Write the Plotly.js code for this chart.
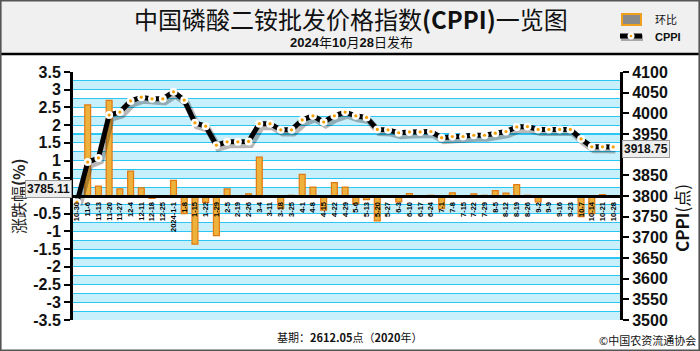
<!DOCTYPE html>
<html><head><meta charset="utf-8">
<script src="https://cdn.plot.ly/plotly-3.0.1.min.js"></script>
<style>html,body{margin:0;padding:0;background:#fff}#chart{width:700px;height:351px}</style>
</head><body><div id="chart"></div>
<script>
const categories = ['10-30','11-6','11-13','11-20','11-27','12-4','12-11','12-18','12-25','2024-1-1','1-8','1-15','1-22','1-29','2-5','2-19','2-26','3-4','3-11','3-18','3-25','4-1','4-8','4-15','4-22','4-29','5-6','5-13','5-20','5-27','6-3','6-10','6-17','6-24','7-1','7-8','7-15','7-22','7-29','8-5','8-12','8-19','8-26','9-2','9-9','9-16','9-23','10-7','10-14','10-21','10-28'];
const changePct = [0,2.57,0.28,2.7,0.2,0.7,0.23,-0.07,0,0.44,-0.5,-1.36,-0.18,-1.12,0.2,0,0.06,1.1,0,-0.36,0.02,0.61,0.25,-0.4,0.38,0.25,-0.22,-0.1,-0.7,-0.03,-0.17,0.07,0,0.02,-0.36,0.09,0,0.06,0.02,0.15,0.08,0.32,0.02,-0.17,0.01,0,0,-0.58,-0.5,0.04,0];
const cppi = [3785.11,3882,3892,3996,4003,4030,4039,4035,4035,4052,4032,3977,3969,3923,3931,3931,3932,3975,3975,3960,3960,3984,3994,3979,3994,4003,3994,3990,3961,3960,3953,3955,3955,3956,3941,3944,3944,3947,3947,3952,3956,3967,3968,3961,3961,3961,3961,3938,3919,3919,3918.75];
const leftTickVals = [-3.5,-3,-2.5,-2,-1.5,-1,-0.5,0,0.5,1,1.5,2,2.5,3,3.5];
const leftTickText = ['-3.5','-3','-2.5','-2','-1.5','-1','-0.5','','0.5','1','1.5','2','2.5','3','3.5'];
const rightTickVals = [3500,3550,3600,3650,3700,3750,3800,3850,3900,3950,4000,4050,4100];
const rightTickText = ['3500','3550','3600','3650','3700','3750','3800','3850','','3950','4000','4050','4100'];
const titleText = '中国磷酸二铵批发价格指数<b>(CPPI)</b>一览图';
const subtitleText = '<b>2024</b>年<b>10</b>月<b>28</b>日发布';
const leftTitle = '涨跌幅<b>(%)</b>';
const rightTitle = '<b>CPPI</b>(点)';
const legendBar = '环比';
const legendLine = 'CPPI';
const baseText = '基期：<b>2612.05</b>点（<b>2020</b>年）';
const sourceText = '©中国农资流通协会';
const firstLabel = '3785.11';
const lastLabel = '3918.75';

const W = 700, H = 351, L = 73, R = 620, T = 72, B = 320;
const px = x => (x - L) / (R - L);
const py = y => (B - y) / (B - T);
const FONT = 'Liberation Sans, Arial, Noto Sans CJK SC, sans-serif';
const CJK = 'Noto Sans CJK SC, Liberation Sans, sans-serif';
const xr = [-0.37, 50.63];
const lastIdx = categories.length - 1;

const shapes = [];
shapes.push({type:'rect', xref:'paper', yref:'paper', x0:px(0), x1:px(W), y0:py(0), y1:py(53), fillcolor:'#f0f0f0', line:{width:0}, layer:'below'});
shapes.push({type:'line', xref:'paper', yref:'paper', x0:px(1), x1:px(699), y0:py(54), y1:py(54), line:{color:'#000', width:2.5}});
shapes.push({type:'rect', xref:'paper', yref:'paper', x0:px(0.8), x1:px(699.2), y0:py(0.8), y1:py(350.2), line:{color:'#555', width:1.6}});
for (let v = -3.5; v < 3.5; v += 0.5) {
  shapes.push({type:'rect', xref:'paper', yref:'y', x0:0, x1:1, y0:v, y1:v+0.25, fillcolor:'#c8f0fc', line:{width:0}, layer:'below'});
}
shapes.push({type:'rect', xref:'paper', yref:'paper', x0:px(622), x1:px(641), y0:py(14), y1:py(25), fillcolor:'#8a8a8a', line:{color:'#f0a01c', width:2}});
shapes.push({type:'line', xref:'paper', yref:'paper', x0:px(621), x1:px(643), y0:py(38), y1:py(38), line:{color:'rgba(0,0,0,0.3)', width:6}});
shapes.push({type:'line', xref:'paper', yref:'paper', x0:px(620), x1:px(642), y0:py(36), y1:py(36), line:{color:'#000', width:5}});
shapes.push({type:'circle', xref:'paper', yref:'paper', x0:px(627.5), x1:px(634.5), y0:py(32.5), y1:py(39.5), fillcolor:'#fff', line:{width:0}});
shapes.push({type:'circle', xref:'paper', yref:'paper', x0:px(629.7), x1:px(632.3), y0:py(34.7), y1:py(37.3), fillcolor:'#f5a000', line:{width:0}});

function ann(o) { return Object.assign({xref:'paper', yref:'paper', showarrow:false, xanchor:'center', yanchor:'middle', borderpad:0}, o); }
const annotations = [
  ann({text:titleText, x:px(351), y:py(18.5), font:{family:CJK, size:24, color:'#111'}}),
  ann({text:subtitleText, x:px(351), y:py(42.5), font:{family:FONT, size:13, color:'#111'}}),
  ann({text:legendBar, x:px(654), y:py(19), xanchor:'left', font:{family:CJK, size:11, color:'#111'}}),
  ann({text:'<b>'+legendLine+'</b>', x:px(654), y:py(37), xanchor:'left', font:{family:FONT, size:11, color:'#111'}}),
  ann({text:leftTitle, x:px(18), y:py(196), textangle:-90, font:{family:CJK, size:16, color:'#222'}}),
  ann({text:rightTitle, x:px(682), y:py(218), textangle:-90, font:{family:CJK, size:17, color:'#111'}}),
  ann({text:baseText, x:px(350), y:py(337), font:{family:CJK, size:11, color:'#111'}}),
  ann({text:sourceText, x:px(697), y:py(340), xanchor:'right', font:{family:CJK, size:11, color:'#111'}}),
  ann({text:'<b>'+firstLabel+'</b>', yref:'y2', x:px(72), y:cppi[0], yshift:13, xanchor:'right', bgcolor:'#eeeeee', bordercolor:'#999', borderwidth:1, borderpad:1, font:{family:FONT, size:12, color:'#111'}}),
  ann({text:'<b>'+lastLabel+'</b>', yref:'y2', x:px(622), y:cppi[lastIdx], yshift:-2, xanchor:'left', bgcolor:'#eeeeee', bordercolor:'#999', borderwidth:1, borderpad:1, font:{family:FONT, size:12, color:'#111'}})
];

const traces = [
  {type:'bar', x:categories, y:changePct, xaxis:'x', yaxis:'y', width:0.55,
   marker:{color:'#ecb23c', line:{color:'#e27a12', width:1.2}}, hoverinfo:'skip', showlegend:false},
  {type:'scatter', mode:'lines', x:categories, y:cppi, xaxis:'x2', yaxis:'y3',
   line:{color:'rgba(0,0,0,0.28)', width:7}, hoverinfo:'skip', showlegend:false},
  {type:'scatter', mode:'lines+markers', x:categories, y:cppi, xaxis:'x3', yaxis:'y4',
   line:{color:'#000', width:5}, marker:{size:8, color:'#fff'}, showlegend:false},
  {type:'scatter', mode:'markers', x:categories, y:cppi, xaxis:'x3', yaxis:'y4',
   marker:{size:3.2, color:'#f5a000'}, hoverinfo:'skip', showlegend:false}
];

const tickFont = {family:FONT, size:16, color:'#111', weight:'bold'};
const layout = {
  width:W, height:H, margin:{l:L, r:W-R, t:T, b:H-B},
  paper_bgcolor:'#fff', plot_bgcolor:'#fff', showlegend:false, bargap:0,
  xaxis:{type:'category', range:xr, anchor:'free', position:0.5, tickmode:'linear', tick0:0, dtick:1,
    tickangle:-90, ticks:'', showgrid:false, zeroline:false, showline:true, linecolor:'#000', linewidth:3,
    tickfont:{family:FONT, size:7.5, color:'#000', weight:'bold'}, ticklabelstandoff:1},
  xaxis2:{type:'category', range:[xr[0]-0.2, xr[1]-0.2], overlaying:'x', visible:false},
  xaxis3:{type:'category', range:xr, overlaying:'x', visible:false},
  xaxis4:{type:'linear', range:xr, overlaying:'x', anchor:'free', position:0.5, tick0:1.5, dtick:2,
    ticks:'outside', ticklen:5, tickwidth:2, tickcolor:'#000', showticklabels:false, showgrid:false, zeroline:false, showline:false},
  yaxis:{range:[-3.5,3.5], tickmode:'array', tickvals:leftTickVals, ticktext:leftTickText, ticks:'outside', ticklen:6, tickwidth:2, tickcolor:'#000',
    showline:true, linecolor:'#000', linewidth:3, showgrid:true, gridcolor:'#2cc6f4', gridwidth:1.2,
    minor:{dtick:0.25, tick0:0, showgrid:true, gridcolor:'#2cc6f4', gridwidth:1.2}, zeroline:false, tickfont:tickFont, anchor:'x'},
  yaxis2:{range:[3500,4100], tickmode:'array', tickvals:rightTickVals, ticktext:rightTickText, overlaying:'y', side:'right', anchor:'x', ticks:'outside', ticklen:6, tickwidth:2, tickcolor:'#000',
    showline:true, linecolor:'#000', linewidth:3, showgrid:false, zeroline:false, tickfont:tickFont},
  yaxis3:{range:[3500+7.3, 4100+7.3], overlaying:'y', visible:false},
  yaxis4:{range:[3500,4100], overlaying:'y', visible:false},
  shapes:shapes, annotations:annotations
};
Plotly.newPlot('chart', traces, layout, {displayModeBar:false, staticPlot:true});
</script></body></html>
